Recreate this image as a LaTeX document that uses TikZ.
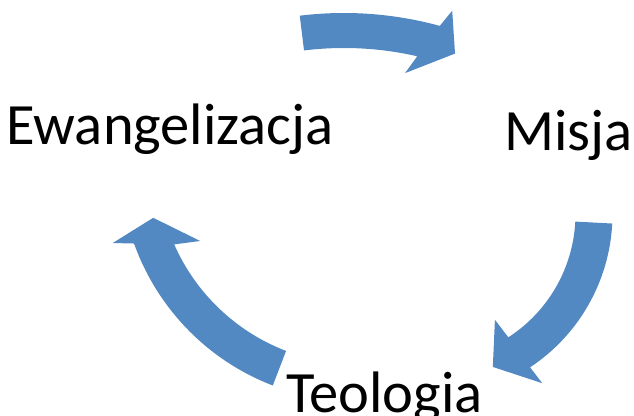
\documentclass[tikz,border=0pt]{standalone}
\usepackage{fontspec}
\setmainfont{Carlito}
\usepackage{tikz}
\definecolor{arrowblue}{RGB}{83,137,195}

\begin{document}
\begin{tikzpicture}[x = 1pt, y = 1pt,
                      word/.style = {anchor = base west, inner sep = 0pt, font = \fontsize{58.5}{61}\selectfont},
                      curvearrow/.style = {fill = arrowblue}]
    \useasboundingbox (0, 0) rectangle (634, 415);

    \node [word] (ewang) at (6, 270) {Ewangelizacja};
    \node [word] (misja) at (504, 264) {Misja};
    \node [word] (teol) at (286, 3) {Teologia};

    % Ewangelizacja -> Misja
    \coordinate (c1) at (344, 39);
    \fill [curvearrow] ([shift={(97:363)}]c1) arc [start angle = 97, end angle = 74.7, radius = 363]
        -- ([shift={(73.5:381)}]c1) -- ([shift={(71:341)}]c1) -- ([shift={(78.6:309)}]c1)
        -- ([shift={(77.1:328)}]c1) arc [start angle = 77.1, end angle = 97, radius = 328] -- cycle;

    % Misja -> Teologia
    \coordinate (c2) at (428.5, 201.1);
    \fill [curvearrow] ([shift={(-3:184)}]c2) arc [start angle = -3, end angle = -56.5, radius = 184]
        -- ([shift={(-56.1:204)}]c2) -- ([shift={(-67.2:166)}]c2) -- ([shift={(-57.9:125)}]c2)
        -- ([shift={(-57.1:147)}]c2) arc [start angle = -57.1, end angle = -3, radius = 147] -- cycle;

    % Teologia -> Ewangelizacja
    \coordinate (c3) at (358.1, 251.7);
    \fill [curvearrow] ([shift={(249:238)}]c3) arc [start angle = 249, end angle = 199.7, radius = 238]
        -- ([shift={(198:258)}]c3) -- ([shift={(194.9:212)}]c3) -- ([shift={(206.2:176)}]c3)
        -- ([shift={(203.8:201)}]c3) arc [start angle = 203.8, end angle = 249, radius = 201] -- cycle;
\end{tikzpicture}
\end{document}
